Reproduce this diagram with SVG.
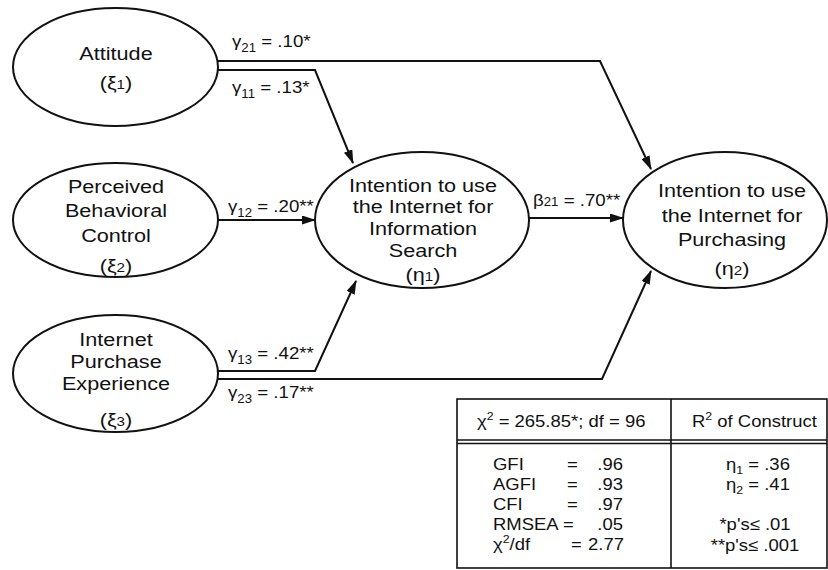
<svg xmlns="http://www.w3.org/2000/svg" width="828" height="570" viewBox="0 0 828 570">
<style>
  .node { fill: #ffffff; stroke: #111111; stroke-width: 2; }
  .nt { font-family: "Liberation Sans", Arial, sans-serif; font-size: 18.5px; fill: #111111; text-anchor: middle; }
  .lbl { font-family: "Liberation Sans", Arial, sans-serif; font-size: 17px; fill: #111111; }
  .tb { font-family: "Liberation Sans", Arial, sans-serif; font-size: 16.5px; fill: #111111; }
  .mid { text-anchor: middle; }
  .conn { fill: none; stroke: #111111; stroke-width: 2; marker-end: url(#ah); }
  .grid { fill: none; stroke: #111111; stroke-width: 1.6; }
</style>
<defs>
  <marker id="ah" markerWidth="14" markerHeight="9" refX="13" refY="4.5" orient="auto" markerUnits="userSpaceOnUse">
    <path d="M0,0 L14,4.5 L0,9 z" fill="#111111"/>
  </marker>
</defs>
<rect width="828" height="570" fill="#ffffff"/>

<g id="connectors">
  <polyline class="conn" points="218,61 600,61 651,169"/>
  <polyline class="conn" points="218,70 315,70 353,163"/>
  <polyline class="conn" points="218,220 315,220"/>
  <polyline class="conn" points="529,218 623,218"/>
  <polyline class="conn" points="218,371 315,371 356,281"/>
  <polyline class="conn" points="218,379 602,379 651,271"/>
</g>

<g id="edge-labels">
  <text class="lbl" transform="translate(232 47) scale(1.1 1)">γ<tspan font-size="12" dy="5">21</tspan><tspan dy="-5"> = .10*</tspan></text>
  <text class="lbl" transform="translate(232 93) scale(1.1 1)">γ<tspan font-size="12" dy="5">11</tspan><tspan dy="-5"> = .13*</tspan></text>
  <text class="lbl" transform="translate(228 212) scale(1.1 1)">γ<tspan font-size="12" dy="5">12</tspan><tspan dy="-5"> = .20**</tspan></text>
  <text class="lbl" transform="translate(228 359) scale(1.1 1)">γ<tspan font-size="12" dy="5">13</tspan><tspan dy="-5"> = .42**</tspan></text>
  <text class="lbl" transform="translate(228 398) scale(1.1 1)">γ<tspan font-size="12" dy="5">23</tspan><tspan dy="-5"> = .17**</tspan></text>
  <text class="lbl" transform="translate(533 206) scale(1.1 1)">β<tspan font-size="12">21</tspan> = .70**</text>
</g>

<g id="n-attitude">
  <ellipse class="node" cx="115.5" cy="67" rx="102.5" ry="59"/>
  <g transform="translate(116 0) scale(1.17 1)">
    <text class="nt" x="0" y="60">Attitude</text>
    <text class="nt" x="0" y="89">(ξ<tspan font-size="13">1</tspan>)</text>
  </g>
</g>

<g id="n-pbc">
  <ellipse class="node" cx="115.5" cy="220" rx="102.5" ry="57"/>
  <g transform="translate(116 0) scale(1.17 1)">
    <text class="nt" x="0" y="193">Perceived</text>
    <text class="nt" x="0" y="217">Behavioral</text>
    <text class="nt" x="0" y="242">Control</text>
    <text class="nt" x="0" y="272">(ξ<tspan font-size="13">2</tspan>)</text>
  </g>
</g>

<g id="n-exp">
  <ellipse class="node" cx="115.5" cy="373.5" rx="102.5" ry="58.5"/>
  <g transform="translate(116 0) scale(1.17 1)">
    <text class="nt" x="0" y="346">Internet</text>
    <text class="nt" x="0" y="368">Purchase</text>
    <text class="nt" x="0" y="390">Experience</text>
    <text class="nt" x="0" y="426">(ξ<tspan font-size="13">3</tspan>)</text>
  </g>
</g>

<g id="n-eta1">
  <ellipse class="node" cx="422" cy="220" rx="107" ry="68"/>
  <g transform="translate(423 0) scale(1.17 1)">
    <text class="nt" x="0" y="192">Intention to use</text>
    <text class="nt" x="0" y="213">the Internet for</text>
    <text class="nt" x="0" y="235">Information</text>
    <text class="nt" x="0" y="257">Search</text>
    <text class="nt" x="0" y="281">(η<tspan font-size="13">1</tspan>)</text>
  </g>
</g>

<g id="n-eta2">
  <ellipse class="node" cx="725" cy="220" rx="102" ry="68"/>
  <g transform="translate(732 0) scale(1.17 1)">
    <text class="nt" x="0" y="197">Intention to use</text>
    <text class="nt" x="0" y="222">the Internet for</text>
    <text class="nt" x="0" y="246">Purchasing</text>
    <text class="nt" x="0" y="275">(η<tspan font-size="13">2</tspan>)</text>
  </g>
</g>

<g id="fit-table">
  <rect class="grid" x="457" y="399" width="370" height="169"/>
  <line class="grid" x1="671" y1="399" x2="671" y2="568"/>
  <line class="grid" x1="457" y1="440" x2="827" y2="440"/>
  <line class="grid" x1="457" y1="443.5" x2="827" y2="443.5"/>

  <text class="tb" transform="translate(477 427) scale(1.12 1)">χ<tspan font-size="11" dy="-7">2</tspan><tspan dy="7"> = 265.85*; df = 96</tspan></text>
  <text class="tb" transform="translate(692 427) scale(1.12 1)">R<tspan font-size="11" dy="-7">2</tspan><tspan dy="7"> of Construct</tspan></text>

  <text class="tb" transform="translate(493 470) scale(1.12 1)">GFI</text>
  <text class="tb" transform="translate(493 490) scale(1.12 1)">AGFI</text>
  <text class="tb" transform="translate(493 510) scale(1.12 1)">CFI</text>
  <text class="tb" transform="translate(493 530) scale(1.12 1)">RMSEA</text>
  <text class="tb" transform="translate(493 550) scale(1.12 1)">χ<tspan font-size="11" dy="-7">2</tspan><tspan dy="7">/df</tspan></text>

  <text class="tb" transform="translate(567 470) scale(1.12 1)">=</text>
  <text class="tb" transform="translate(567 490) scale(1.12 1)">=</text>
  <text class="tb" transform="translate(567 510) scale(1.12 1)">=</text>
  <text class="tb" transform="translate(563 530) scale(1.12 1)">=</text>
  <text class="tb" transform="translate(571 550) scale(1.12 1)">=</text>

  <text class="tb" text-anchor="end" transform="translate(623 470) scale(1.12 1)">.96</text>
  <text class="tb" text-anchor="end" transform="translate(623 490) scale(1.12 1)">.93</text>
  <text class="tb" text-anchor="end" transform="translate(623 510) scale(1.12 1)">.97</text>
  <text class="tb" text-anchor="end" transform="translate(623 530) scale(1.12 1)">.05</text>
  <text class="tb" text-anchor="end" transform="translate(624 550) scale(1.12 1)">2.77</text>

  <text class="tb mid" transform="translate(758 470) scale(1.12 1)">η<tspan font-size="11" dy="4">1</tspan><tspan dy="-4"> = .36</tspan></text>
  <text class="tb mid" transform="translate(758 490) scale(1.12 1)">η<tspan font-size="11" dy="4">2</tspan><tspan dy="-4"> = .41</tspan></text>
  <text class="tb mid" transform="translate(755 530) scale(1.12 1)">*p's≤ .01</text>
  <text class="tb mid" transform="translate(755 551) scale(1.12 1)">**p's≤ .001</text>
</g>
</svg>
